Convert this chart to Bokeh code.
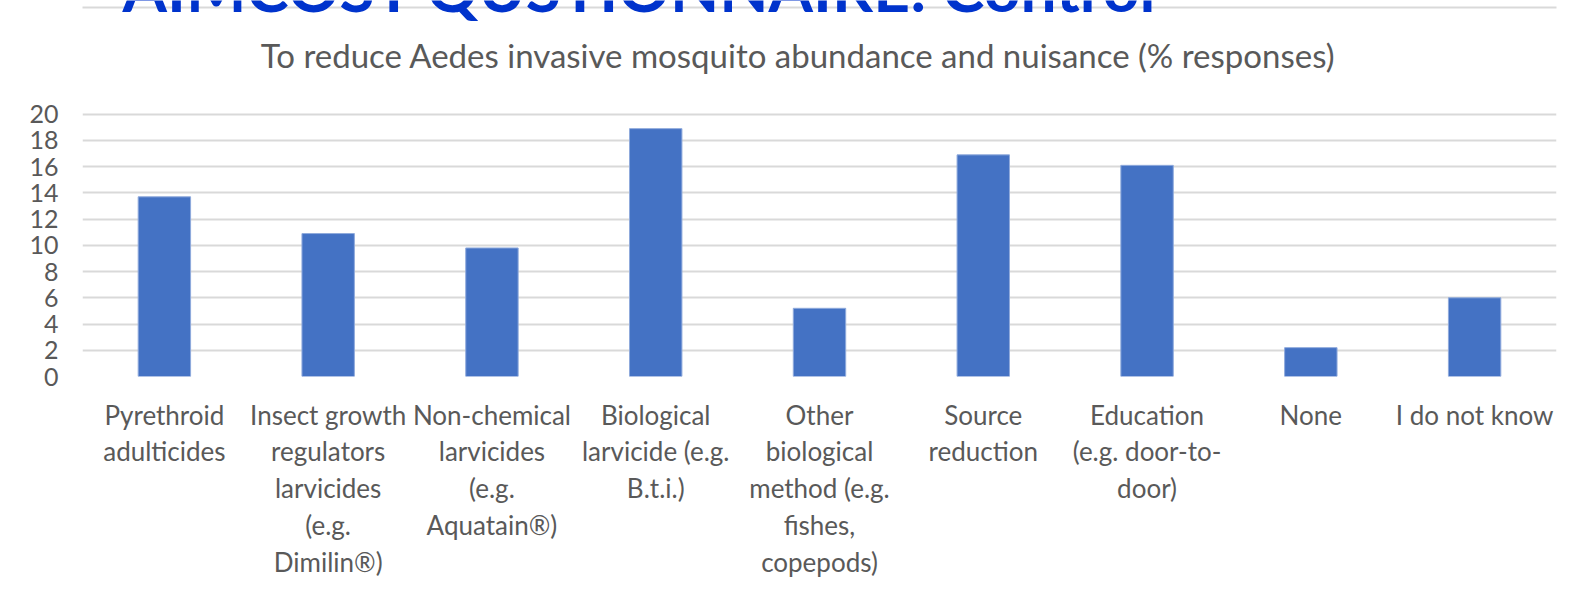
from bokeh.plotting import figure
from bokeh.models import FixedTicker, Range1d, ColumnDataSource, BoxAnnotation
from bokeh.core.properties import value
from bokeh.embed import file_html
from bokeh.resources import INLINE

categories = [
    "Pyrethroid\nadulticides",
    "Insect growth\nregulators\nlarvicides\n(e.g.\nDimilin®)",
    "Non-chemical\nlarvicides\n(e.g.\nAquatain®)",
    "Biological\nlarvicide (e.g.\nB.t.i.)",
    "Other\nbiological\nmethod (e.g.\nfishes,\ncopepods)",
    "Source\nreduction",
    "Education\n(e.g. door-to-\ndoor)",
    "None",
    "I do not know",
]
values = [13.7, 10.9, 9.8, 18.9, 5.2, 16.9, 16.1, 2.2, 6.0]
y_ticks = [0, 2, 4, 6, 8, 10, 12, 14, 16, 18, 20]
chart_title = "To reduce Aedes invasive mosquito abundance and nuisance (% responses)"
slide_title = "AIMCOST QUSTIONNAIRE: Control"

FONT = "Lato"
TEXT = "#595959"
GRID = "#d9d9d9"
BAR = "#4472C4"

Y_END = 28.67  # extra room above the 0-20 axis for the titles

xs = [i + 0.5 for i in range(len(categories))]
src = ColumnDataSource(dict(x=xs, top=values))

p = figure(width=1559, height=580, output_backend="svg", toolbar_location=None,
           x_range=Range1d(0, len(categories)), y_range=Range1d(0, Y_END),
           min_border_left=82, min_border_right=3, min_border_top=0,
           min_border_bottom=199)
p.outline_line_color = None
p.background_fill_color = "white"
p.border_fill_color = "white"

p.vbar(x="x", top="top", width=0.32, bottom=0, source=src,
       fill_color=BAR, line_color="#8faadc", line_width=1)

# y axis
p.yaxis.ticker = FixedTicker(ticks=y_ticks)
p.yaxis.axis_line_color = None
p.yaxis.major_tick_line_color = None
p.yaxis.minor_tick_line_color = None
p.yaxis.major_tick_out = 0
p.yaxis.major_tick_in = 0
p.yaxis.major_label_standoff = 24
p.yaxis.major_label_text_font = FONT
p.yaxis.major_label_text_font_size = "25px"
p.yaxis.major_label_text_color = TEXT

# x axis
p.xaxis.ticker = FixedTicker(ticks=xs)
p.xaxis.major_label_overrides = {x: c for x, c in zip(xs, categories)}
p.xaxis.axis_line_color = None
p.xaxis.major_tick_line_color = None
p.xaxis.minor_tick_line_color = None
p.xaxis.major_tick_out = 0
p.xaxis.major_tick_in = 0
p.xaxis.major_label_standoff = 22
p.xaxis.major_label_text_font = FONT
p.xaxis.major_label_text_font_size = "26px"
p.xaxis.major_label_text_color = TEXT
p.xaxis.major_label_text_line_height = 1.15

p.xgrid.grid_line_color = None
p.ygrid.ticker = FixedTicker(ticks=y_ticks)
p.ygrid.grid_line_color = GRID
p.ygrid.grid_line_width = 2

# chart area border (drawn beneath the glyphs)
p.add_layout(BoxAnnotation(left=4, right=1600, top=7, bottom=620,
                           left_units="canvas", right_units="canvas",
                           top_units="canvas", bottom_units="canvas",
                           fill_color=None, fill_alpha=0, level="underlay",
                           line_color=GRID, line_width=2, line_alpha=1))

title_src = ColumnDataSource(dict(x=[4.37], y=[24.49], t=[chart_title]))
p.text(x="x", y="y", text="t", source=title_src, text_align="center",
       text_baseline="middle", text_font=value(FONT), text_font_size="33px",
       text_color=TEXT)
big_src = ColumnDataSource(dict(x=[0.244], y=[29.65], t=[slide_title]))
p.text(x="x", y="y", text="t", source=big_src, text_align="left",
       text_baseline="alphabetic", text_font=value(FONT), text_font_size="64px",
       text_font_style="bold", text_color="#0033CC")

open("out.html", "w").write(file_html(p, INLINE))
